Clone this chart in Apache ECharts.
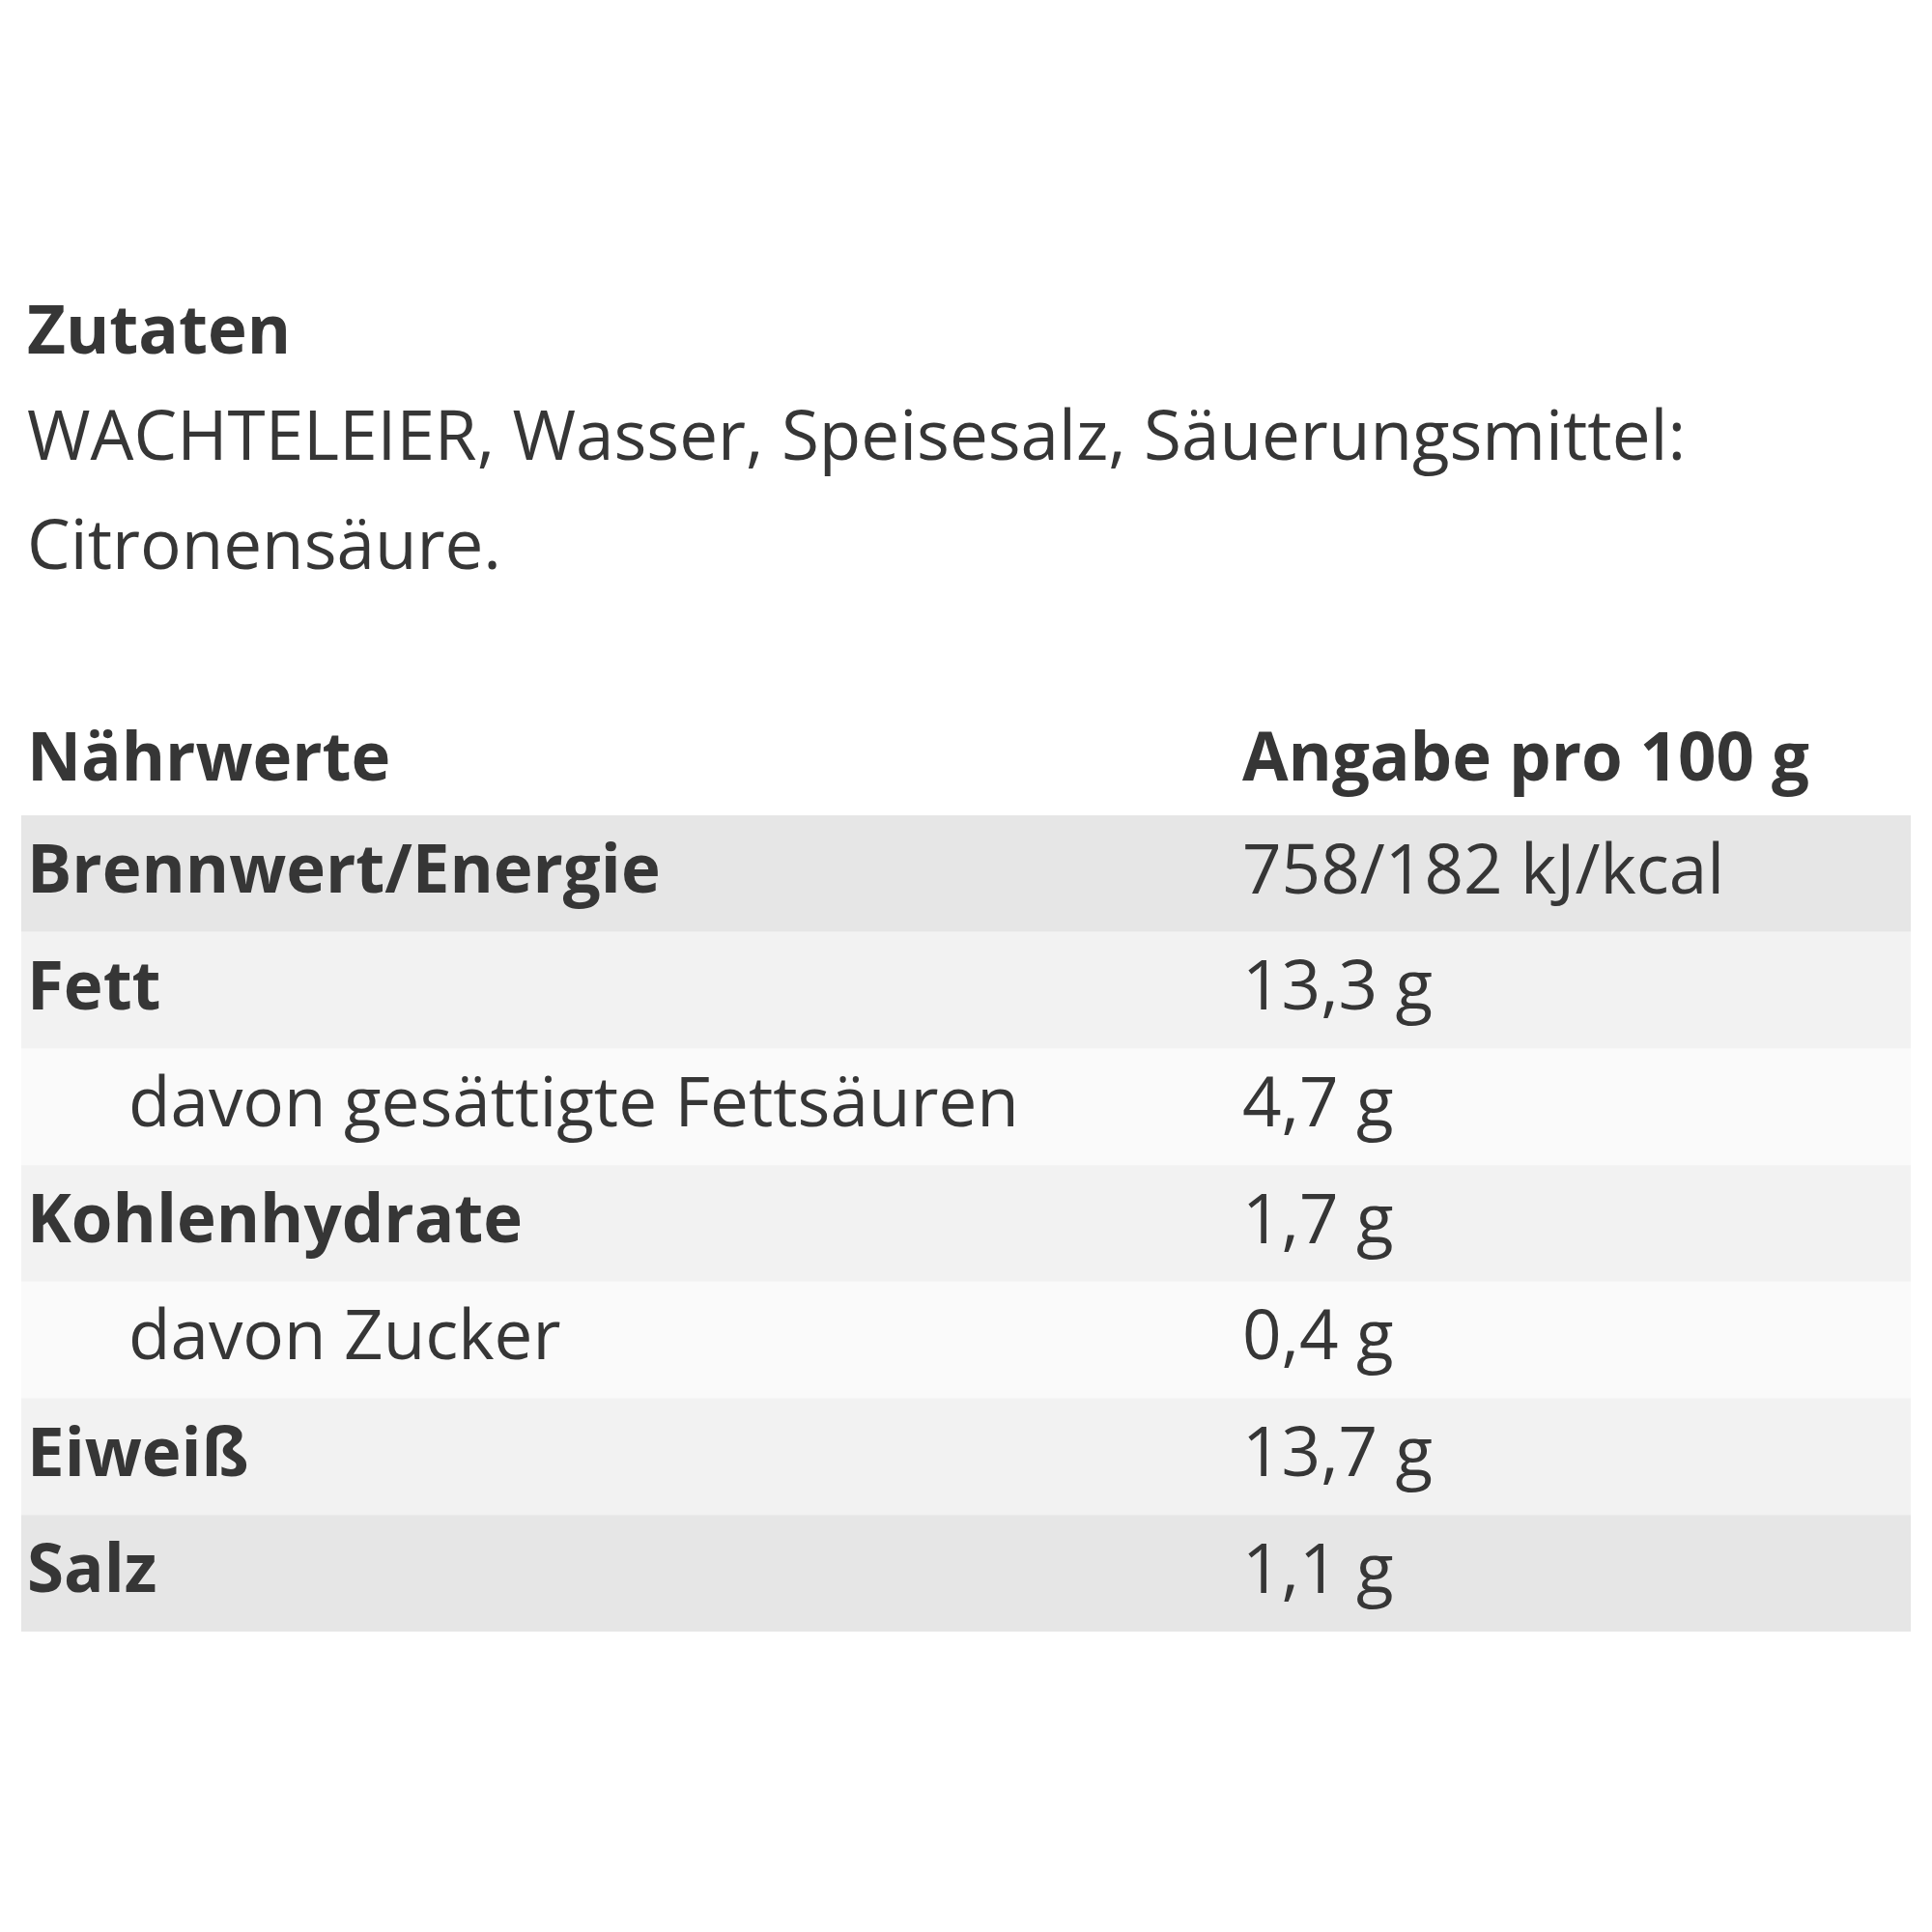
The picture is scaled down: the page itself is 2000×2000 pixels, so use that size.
<!DOCTYPE html>
<html><head><meta charset="utf-8">
<script src="https://cdn.jsdelivr.net/npm/echarts@6/dist/echarts.min.js"></script>
<style>html,body{margin:0;background:#fff}#c{width:2000px;height:2000px}</style>
</head><body><div id="c"></div>
<script>
const title = "Zutaten";
const ingredientLines = ["WACHTELEIER, Wasser, Speisesalz, Säuerungsmittel:", "Citronensäure."];
const headerLeft = "Nährwerte";
const headerRight = "Angabe pro 100 g";
const nutrients = ["Brennwert/Energie","Fett","davon gesättigte Fettsäuren","Kohlenhydrate","davon Zucker","Eiweiß","Salz"];
const amounts = ["758/182 kJ/kcal","13,3 g","4,7 g","1,7 g","0,4 g","13,7 g","1,1 g"];
const subRow = [false,false,true,false,true,false,false];
const rowColors = ["#e6e6e6","#f2f2f2","#fafafa","#f2f2f2","#fafafa","#f2f2f2","#e6e6e6"];

const chart = echarts.init(document.getElementById('c'));
const FONT = '"Open Sans", sans-serif';
const TXT = '#363636';
const B = 'bold 69px '+FONT, R = '71px '+FONT;
chart.setOption({
  animation:false,
  grid:{left:22,right:22,top:844,height:845},
  xAxis:{type:'value',min:0,max:1,show:false},
  yAxis:{type:'category',data:nutrients,inverse:true,show:false},
  graphic:[
    {type:'text',left:28,top:312,style:{text:title,font:B,fill:TXT}},
    {type:'text',left:28,top:420,style:{text:ingredientLines[0],font:R,fill:TXT}},
    {type:'text',left:28,top:533,style:{text:ingredientLines[1],font:R,fill:TXT}},
    {type:'text',left:28,top:754,style:{text:headerLeft,font:B,fill:TXT}},
    {type:'text',left:1286,top:754,style:{text:headerRight,font:B,fill:TXT}}
  ],
  series:[{
    type:'custom',
    data:nutrients.map((n,i)=>[0,i]),
    renderItem:function(params,api){
      const i = api.value(1);
      const cs = params.coordSys;
      const c = api.coord([0,i]);
      const h = api.size([0,1])[1];
      const y0 = c[1]-h/2;
      return {type:'group',children:[
        {type:'rect',shape:{x:cs.x,y:y0,width:cs.width,height:h},style:{fill:rowColors[i]}},
        {type:'text',style:{text:nutrients[i],x:subRow[i]?133:28,y:c[1],verticalAlign:'middle',
          font:subRow[i]?R:B,fill:TXT}},
        {type:'text',style:{text:amounts[i],x:1286,y:c[1],verticalAlign:'middle',font:R,fill:TXT}}
      ]};
    }
  }]
});
</script></body></html>
